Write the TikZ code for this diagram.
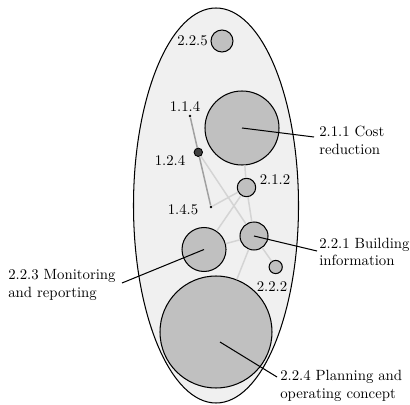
\documentclass[tikz,border=0pt]{standalone}
\usetikzlibrary{calc}
\definecolor{bgfill}{HTML}{F0F0F0}
\definecolor{bubfill}{HTML}{C0C0C0}
\definecolor{darkdot}{HTML}{404040}
\definecolor{lightlink}{HTML}{D4D4D4}
\definecolor{darklink}{HTML}{A0A0A0}
\begin{document}
\begin{tikzpicture}[x=0.676pt,y=-0.676pt,
  bub/.style={circle,draw=black,line width=0.7pt,fill=bubfill,inner sep=0pt,minimum size={#1*1.352pt}},
  tinydot/.style={circle,fill=black,inner sep=0pt,minimum size=1.9pt},
  lbl/.style={inner sep=0pt,font=\normalsize},
  mlbl/.style={inner sep=0pt,align=left,font=\normalsize},
  lightln/.style={draw=lightlink,line width=1.0pt},
  darkln/.style={draw=darklink,line width=1.0pt},
  leader/.style={draw=black,line width=0.7pt}]
\useasboundingbox (0,0) rectangle (410,404);
% envelope
\draw[fill=bgfill,line width=0.7pt] (216,205.5) ellipse [x radius=82.5, y radius=197.5];
% nodes
\node[bub=11] (c225) at (222,41) {};
\node[bub=37] (c211) at (242,128) {};
\node[bub=9.2] (c212) at (246.5,187.5) {};
\node[tinydot] (d114) at (190,116) {};
\node[circle,draw=black,fill=darkdot,line width=0.6pt,inner sep=0pt,minimum size={4.2*1.352pt}] (d124) at (198.3,152.3) {};
\node[tinydot] (d145) at (211,207) {};
\node[bub=14] (c221) at (254,236) {};
\node[bub=22] (c223) at (204,249.5) {};
\node[bub=6.6] (c222) at (275.7,267) {};
\node[bub=56] (c224) at (216,332) {};
% links
\begin{scope}[on background layer/.style={}]
\end{scope}
\path[darkln] (d114) -- (d124);
\path[darkln] (d124) -- (d145);
\path[lightln] (c211) -- (c212);
\path[lightln] (d145) -- (c212);
\path[lightln] (c223) -- (c212);
\path[lightln] (d124) -- (c221);
\path[lightln] (c221) -- (c222);
\path[lightln] (c212) -- (c221);
\path[lightln] (c223) -- (c221);
\path[lightln] (c221) -- (c224);
% labels
\node[lbl,anchor=east] (l225) at (208,41) {2.2.5};
\node[lbl] (l114) at (185,106) {1.1.4};
\node[lbl] (l124) at (170,160) {1.2.4};
\node[lbl] (l145) at (183,210) {1.4.5};
\node[lbl] (l212) at (275,180) {2.1.2};
\node[lbl] (l222) at (272,287) {2.2.2};
\node[mlbl,anchor=west] (l211) at (319,140.5) {2.1.1 Cost\\reduction};
\node[mlbl,anchor=west] (l221) at (319,252) {2.2.1 Building\\information};
\node[mlbl,anchor=west] (l223) at (8,285) {2.2.3 Monitoring\\and reporting};
\node[mlbl,anchor=west] (l224) at (280,386) {2.2.4 Planning and\\operating concept};
\coordinate (e211) at (314,137);
\coordinate (e221) at (317,251);
\coordinate (e223) at (122,283);
\coordinate (e224) at (277,377);
\coordinate (s224) at (220,342);
% leaders
\draw[leader] (c211.center) -- (e211);
\draw[leader] (c221.center) -- (e221);
\draw[leader] (c223.center) -- (e223);
\draw[leader] (s224) -- (e224);
\end{tikzpicture}
\end{document}
